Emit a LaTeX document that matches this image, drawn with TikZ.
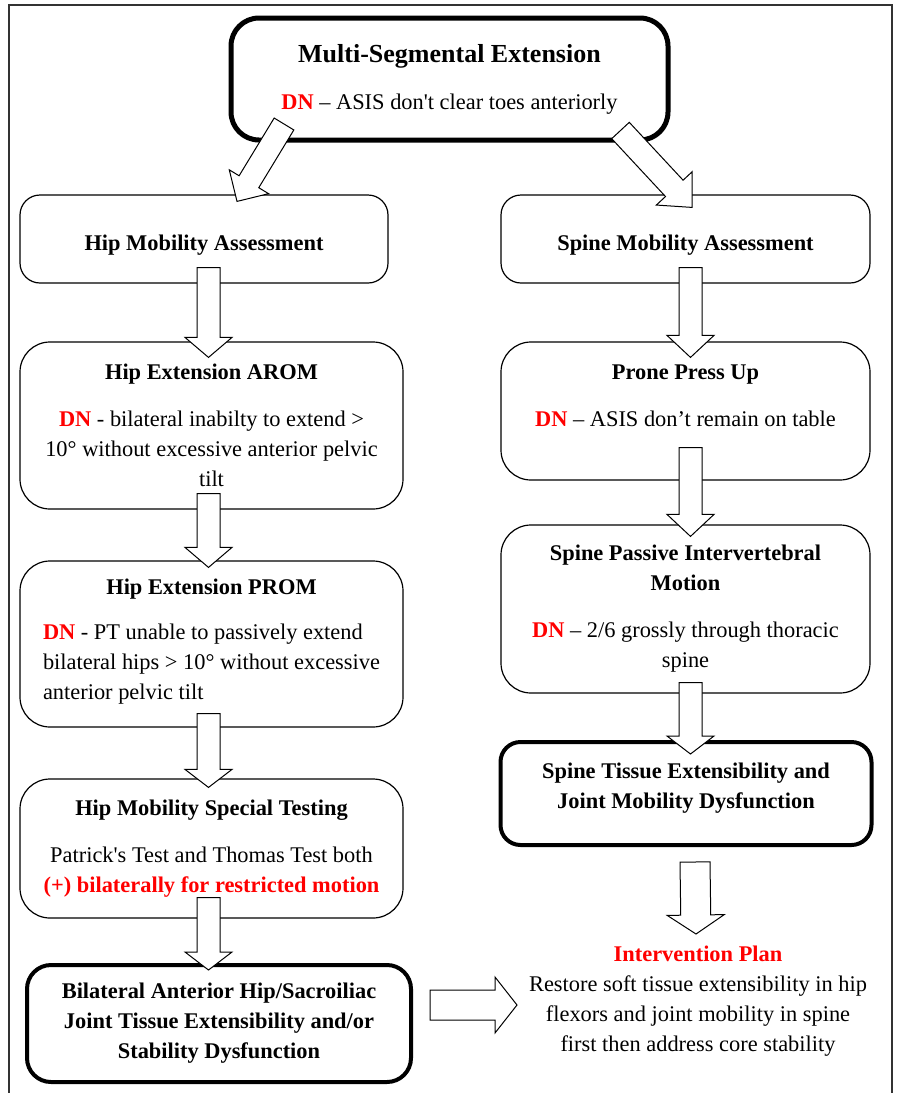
\documentclass[tikz,border=0pt]{standalone}
\usepackage{fontspec}
\setmainfont{Liberation Serif}[Ligatures=TeXOff]
\usetikzlibrary{
    calc,
    positioning
}
\tikzset{
    box/.style={
        draw,
        rounded corners=10pt,
        line width=0.6pt,
        align=center,
        inner sep=0pt,
        font=\fontsize{11.2}{15}\selectfont
    },
    tallbox/.style={
        box,
        rounded corners=15pt
    },
    bigbox/.style={
        box,
        line width=2pt,
        rounded corners=12pt
    },
    plan/.style={
        align=center,
        inner sep=0pt,
        font=\fontsize{11.2}{15}\selectfont
    },
    arrowbody/.style={
        draw,
        fill=white,
        line width=0.5pt,
        line join=miter
    }
}
\newcommand{\dn}{\textcolor{red}{\textbf{DN}}}
% #1 tail, #2 tip, #3 half shaft, #4 half head, #5 head length
\newcommand{\bigarrow}[5]{%
    \coordinate (ah) at ($(#2)!#5!(#1)$);
    \draw[arrowbody]
        ($(#1)!#3!90:(#2)$) -- ($(ah)!#3!90:(#2)$) -- ($(ah)!#4!90:(#2)$)
        -- (#2)
        -- ($(ah)!#4!-90:(#2)$) -- ($(ah)!#3!-90:(#2)$) -- ($(#1)!#3!-90:(#2)$)
        -- cycle;
}

\begin{document}
\begin{tikzpicture}[
    x=0.5pt,
    y=-0.5pt
]
    \useasboundingbox (0,0) rectangle (897,1093);

    % Frame
    \draw[line width=1pt, black!80] (9,1093) -- (9,5) -- (892,5) -- (892,1093);

    % Boxes
    \node[bigbox, line width=2.5pt, rounded corners=14pt,
          minimum width=218.5pt, minimum height=61pt] (top) at (449.5,79)
        {{\fontsize{13}{17.5}\selectfont\textbf{Multi-Segmental Extension}}\\[8.5pt]
         \dn{} – ASIS don't clear toes anteriorly};

    \node[box, minimum width=184pt, minimum height=44pt] (hipmob) at (204,239)
        {\raisebox{-3pt}[\height][\depth]{\textbf{Hip Mobility Assessment}}};
    \node[box, minimum width=184.5pt, minimum height=44pt] (spinemob) at (685.5,239)
        {\raisebox{-3pt}[\height][\depth]{\textbf{Spine Mobility Assessment}}};

    % Hip column
    \node[tallbox, minimum width=191.5pt, minimum height=83.5pt] (harom) at (211.5,425.5)
        {\textbf{Hip Extension AROM}\\[8.5pt]
         \dn{} - bilateral inabilty to extend >\\
         10° without excessive anterior pelvic\\
         tilt};
    \node[tallbox, minimum width=191.5pt, minimum height=83pt] (hprom) at (211.5,644)
        {\textbf{Hip Extension PROM}\\[8.5pt]
         \begin{tabular}{@{}l@{}}
         \dn{} - PT unable to passively extend\\
         bilateral hips > 10° without excessive\\
         anterior pelvic tilt
         \end{tabular}};
    \node[tallbox, minimum width=191.5pt, minimum height=69.5pt] (hspec) at (211.5,848.5)
        {\textbf{Hip Mobility Special Testing}\\[8.5pt]
         Patrick's Test and Thomas Test both\\
         \textcolor{red}{\textbf{(+) bilaterally for restricted motion}}};
    \node[bigbox, minimum width=192pt, minimum height=58.5pt] (hdys) at (219,1023.5)
        {\textbf{Bilateral Anterior Hip/Sacroiliac}\\
         \textbf{Joint Tissue Extensibility and/or}\\
         \textbf{Stability Dysfunction}};

    % Spine column
    \node[tallbox, minimum width=184.5pt, minimum height=69pt] (prone) at (685.5,411)
        {\textbf{Prone Press Up}\\[8.5pt]
         \dn{} – ASIS don’t remain on table\\
         \mbox{}};
    \node[tallbox, minimum width=184.5pt, minimum height=84pt] (spassive) at (685.5,609)
        {\textbf{Spine Passive Intervertebral}\\
         \textbf{Motion}\\[8.5pt]
         \dn{} – 2/6 grossly through thoracic\\
         spine};
    \node[bigbox, rounded corners=10pt, minimum width=185.5pt, minimum height=51.5pt] (sdys) at (686,793.5)
        {\textbf{Spine Tissue Extensibility and}\\
         \textbf{Joint Mobility Dysfunction}\\[-7.5pt]
         \mbox{}};

    % Plan
    \node[plan] (plan) at (698,1001.5)
        {\textcolor{red}{\textbf{Intervention Plan}}\\
         Restore soft tissue extensibility in hip\\
         flexors and joint mobility in spine\\
         first then address core stability};

    % Arrows
    \coordinate (a1t) at ($(top.south)+(-165.5,-18.5)$);
    \coordinate (a1h) at ($(hipmob.north)+(33,7)$);
    \coordinate (a2t) at ($(top.south)+(171,-12)$);
    \coordinate (a2h) at ($(spinemob.north)+(6.5,13)$);
    \coordinate (a3t) at ($(hipmob.south)+(4.5,-16)$);
    \coordinate (a3h) at ($(harom.north)+(-3,16)$);
    \coordinate (a4t) at ($(harom.south)+(-3,-16)$);
    \coordinate (a4h) at ($(hprom.north)+(-3,7)$);
    \coordinate (a5t) at ($(hprom.south)+(-3,-14)$);
    \coordinate (a5h) at ($(hspec.north)+(-3,9)$);
    \coordinate (a6t) at ($(hspec.south)+(-3,-21)$);
    \coordinate (a6h) at ($(hdys.north)+(-10.5,7)$);
    \coordinate (a7t) at ($(spinemob.south)+(5,-16)$);
    \coordinate (a7h) at ($(prone.north)+(5,16)$);
    \coordinate (a8t) at ($(prone.south)+(5,-33)$);
    \coordinate (a8h) at ($(spassive.north)+(5,12)$);
    \coordinate (a9t) at ($(spassive.south)+(5,-11)$);
    \coordinate (a9h) at ($(sdys.north)+(4.5,14)$);
    \coordinate (a10t) at ($(sdys.south)+(9,15)$);
    \coordinate (a10h) at ($(a10t)+(1,72)$);
    \coordinate (a11t) at ($(hdys.east)+(17,-18.5)$);
    \coordinate (a11h) at ($(a11t)+(87,0)$);

    \bigarrow{a1t}{a1h}{5.75pt}{11.5pt}{11.5pt}
    \bigarrow{a2t}{a2h}{6pt}{12.25pt}{13pt}
    \bigarrow{a3t}{a3h}{5.75pt}{11.75pt}{10pt}
    \bigarrow{a4t}{a4h}{5.75pt}{11.75pt}{10pt}
    \bigarrow{a5t}{a5h}{5.75pt}{11.75pt}{9pt}
    \bigarrow{a6t}{a6h}{5.75pt}{11.75pt}{9pt}
    \bigarrow{a7t}{a7h}{5.75pt}{11.75pt}{11pt}
    \bigarrow{a8t}{a8h}{5.75pt}{11.75pt}{11pt}
    \bigarrow{a9t}{a9h}{5.75pt}{11.75pt}{9pt}
    \bigarrow{a10t}{a10h}{7.5pt}{14.25pt}{9.5pt}
    \bigarrow{a11t}{a11h}{7.5pt}{14pt}{11pt}

\end{tikzpicture}
\end{document}
